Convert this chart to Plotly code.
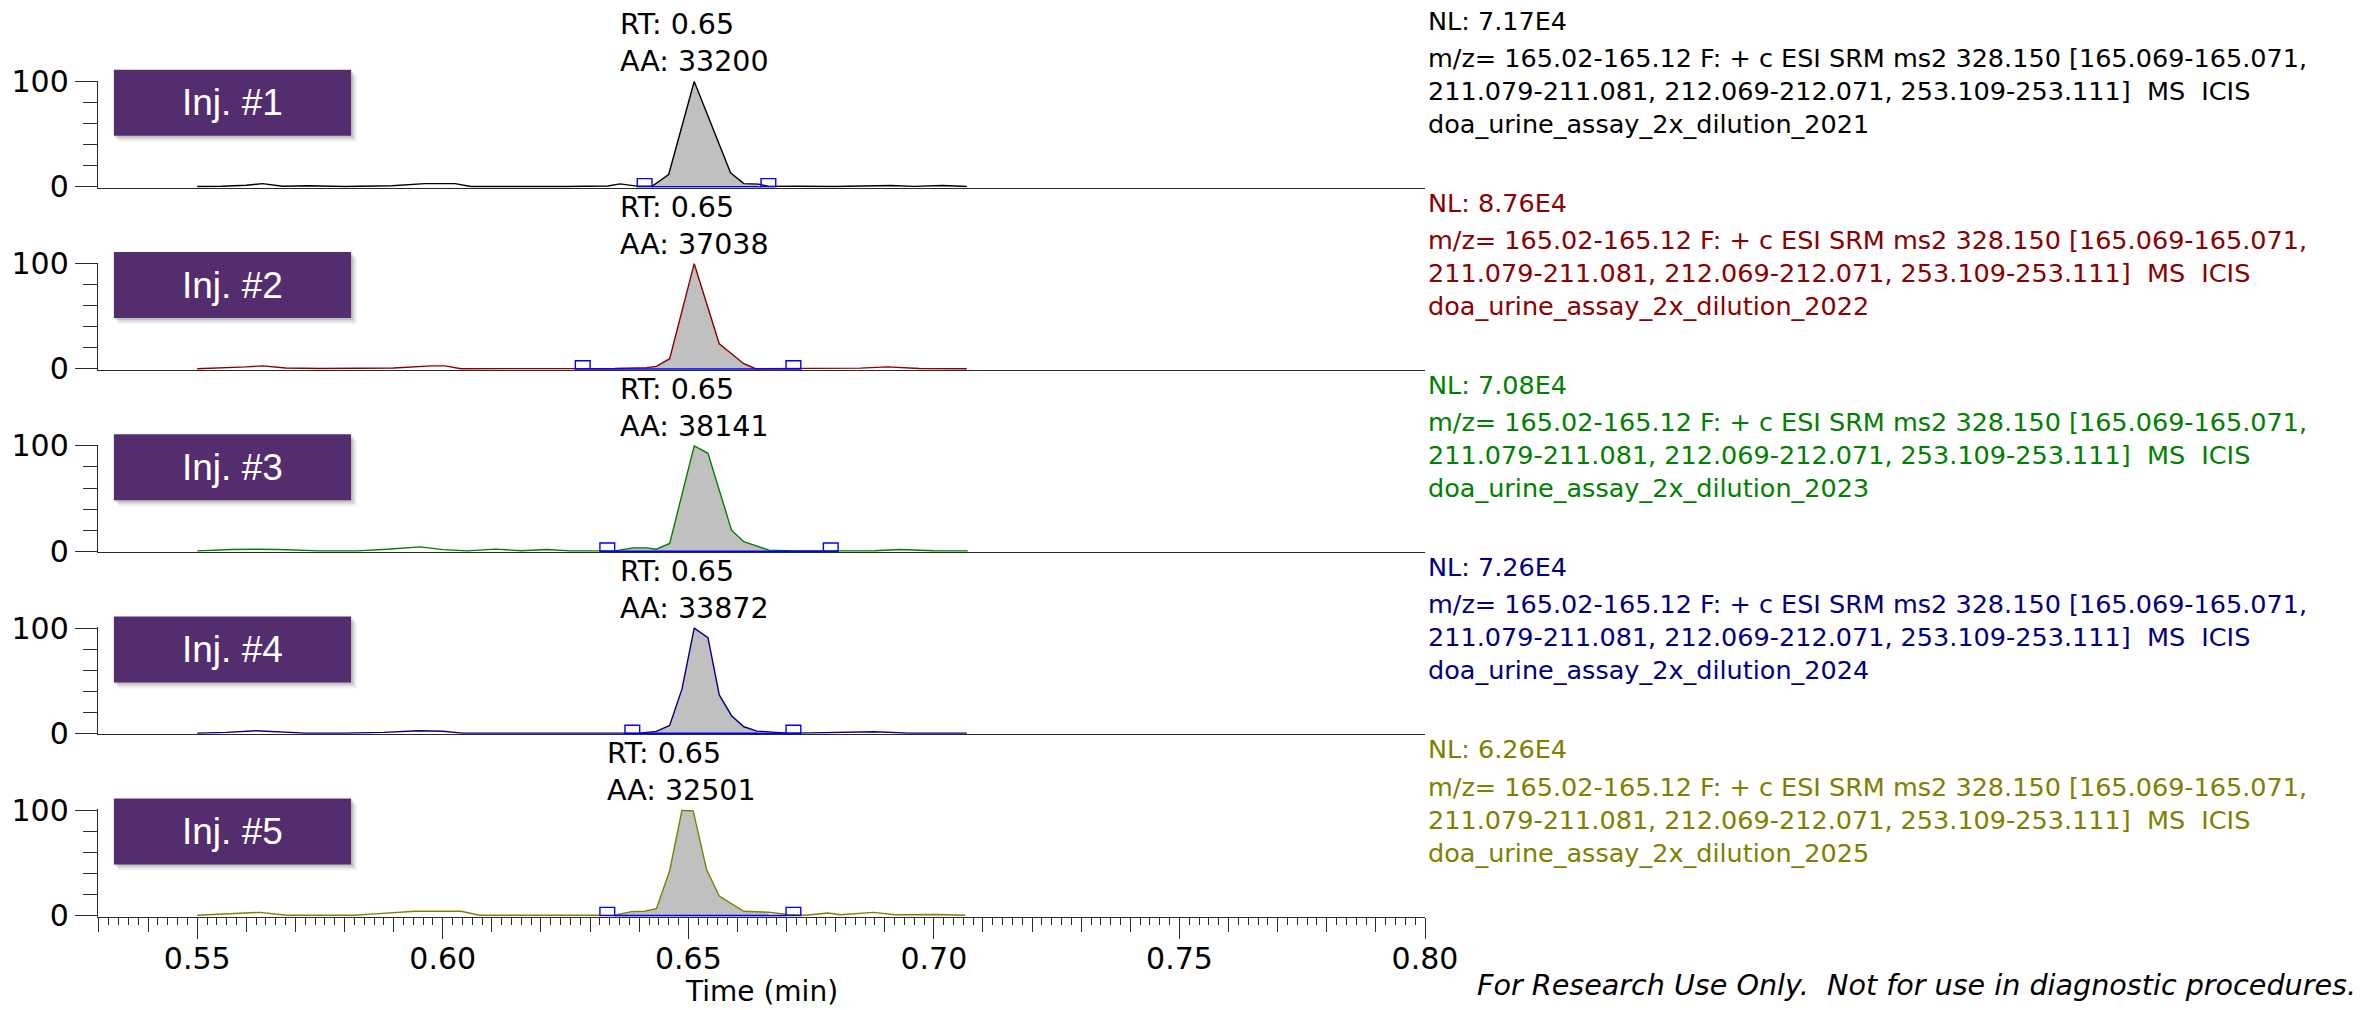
import plotly.graph_objects as go

# ---------------- data ----------------
t1 = [0.550, 0.555, 0.560, 0.5633, 0.5674, 0.5728, 0.580, 0.5896, 0.5964, 0.600, 0.6025, 0.6057,
      0.615, 0.625, 0.6336, 0.6361, 0.6395, 0.6426, 0.6460, 0.6512, 0.6586, 0.6613, 0.6643, 0.6665,
      0.672, 0.680, 0.6913, 0.696, 0.7017, 0.7067]
i1 = [0.3, 0.5, 1.5, 3.0, 0.5, 1.0, 0.3, 1.0, 3.0, 3.2, 3.0, 0.3,
      0.2, 0.3, 0.8, 2.8, 0.6, 0.5, 11.7, 100.0, 13.3, 3.0, 2.5, 0.4,
      0.5, 0.3, 1.3, 0.4, 1.3, 0.3]

t2 = [0.550, 0.555, 0.560, 0.5633, 0.568, 0.575, 0.582, 0.590, 0.5977, 0.6005, 0.6037, 0.610,
      0.620, 0.6296, 0.635, 0.6415, 0.6435, 0.6462, 0.6512, 0.6563, 0.6613, 0.6637, 0.667, 0.675,
      0.685, 0.6906, 0.697, 0.7067]
i2 = [0.3, 1.0, 2.0, 3.0, 1.0, 0.5, 0.5, 1.0, 3.0, 3.0, 0.3, 0.2,
      0.3, 0.3, 0.5, 1.3, 2.5, 9.8, 100.0, 24.0, 5.0, 0.3, 0.3, 0.4,
      0.8, 2.0, 0.5, 0.3]

t3 = [0.550, 0.557, 0.562, 0.5666, 0.575, 0.5825, 0.5887, 0.5954, 0.600, 0.605, 0.6107, 0.616,
      0.6211, 0.626, 0.632, 0.635, 0.6388, 0.6415, 0.6435, 0.6462, 0.6512, 0.6540, 0.6588, 0.6613,
      0.6664, 0.672, 0.680, 0.688, 0.693, 0.700, 0.7069]
i3 = [0.3, 1.6, 1.8, 1.6, 0.3, 0.3, 1.8, 4.1, 1.5, 0.3, 2.0, 0.5,
      1.6, 0.3, 0.3, 0.3, 3.2, 3.2, 1.9, 7.3, 100.0, 93.0, 20.0, 9.0,
      1.0, 0.3, 0.3, 0.5, 1.6, 0.4, 0.3]

t4 = [0.550, 0.556, 0.562, 0.566, 0.572, 0.580, 0.588, 0.595, 0.600, 0.604, 0.610, 0.618,
      0.624, 0.6296, 0.634, 0.6401, 0.6435, 0.6462, 0.6487, 0.6512, 0.6540, 0.6563, 0.6588, 0.6613,
      0.6640, 0.670, 0.675, 0.681, 0.6879, 0.695, 0.7067]
i4 = [0.3, 1.0, 2.5, 1.5, 0.3, 0.3, 1.0, 2.5, 2.0, 0.3, 0.3, 0.5,
      0.8, 0.5, 0.3, 0.3, 1.9, 7.6, 42.0, 100.0, 91.0, 36.5, 16.8, 6.3,
      2.2, 0.3, 0.5, 0.8, 1.6, 0.3, 0.3]

t5 = [0.550, 0.557, 0.5627, 0.5682, 0.575, 0.582, 0.5869, 0.5944, 0.599, 0.6037, 0.6075, 0.615,
      0.625, 0.632, 0.635, 0.6384, 0.6411, 0.6435, 0.6462, 0.6487, 0.6510, 0.6537, 0.6563, 0.6613,
      0.6664, 0.6701, 0.674, 0.6784, 0.681, 0.6877, 0.692, 0.7008, 0.7064]
i5 = [0.3, 1.9, 3.1, 0.3, 0.3, 0.4, 1.9, 4.1, 4.1, 4.1, 0.3, 0.3,
      0.3, 0.3, 0.3, 3.8, 4.1, 6.6, 42.6, 100.0, 99.4, 44.0, 18.6, 4.1,
      3.2, 1.0, 0.3, 2.5, 0.8, 3.1, 0.8, 1.0, 0.3]

times = [t1, t2, t3, t4, t5]
intens = [i1, i2, i3, i4, i5]

peak_start = [0.6426, 0.6300, 0.6350, 0.6401, 0.6350]
peak_end = [0.6648, 0.6699, 0.6775, 0.6699, 0.6699]
rt_values = [0.65, 0.65, 0.65, 0.65, 0.65]
aa_values = [33200, 37038, 38141, 33872, 32501]
nl_values = ["7.17E4", "8.76E4", "7.08E4", "7.26E4", "6.26E4"]
file_names = ["doa_urine_assay_2x_dilution_2021", "doa_urine_assay_2x_dilution_2022",
              "doa_urine_assay_2x_dilution_2023", "doa_urine_assay_2x_dilution_2024",
              "doa_urine_assay_2x_dilution_2025"]
inj_labels = ["Inj. #1", "Inj. #2", "Inj. #3", "Inj. #4", "Inj. #5"]
scan_filter_lines = ["m/z= 165.02-165.12 F: + c ESI SRM ms2 328.150 [165.069-165.071,",
                     "211.079-211.081, 212.069-212.071, 253.109-253.111]\u00a0 MS\u00a0 ICIS"]
x_tick_vals = [0.55, 0.60, 0.65, 0.70, 0.75, 0.80]
y_tick_vals = [0, 100]
x_title = "Time (min)"
disclaimer = "For Research Use Only.\u00a0 Not for use in diagnostic procedures."

# ---------------- styling ----------------
colors = ["#000000", "#8B0000", "#008000", "#000080", "#808000"]
FILL = "#C0C0C0"
BASE_BLUE = "#0000FF"
BOX = "#532D6E"
AXC = "#2a2a2a"
FONT = "DejaVu Sans"

W, H = 2369, 1010
L_PX, R_PX = 88, 1425
T_PX, B_PX = 80, 917
x_range = [0.5298, 0.80]
y_range = [-1.0, 100.8]
Z0, STEP, UNIT = 186.8, 182.2, 1.053


def pyp(px):
    return (B_PX - px) / (B_PX - T_PX)


def pxp(px):
    return (px - L_PX) / (R_PX - L_PX)


fig = go.Figure()
shapes = []
annotations = []

for k in range(5):
    sfx = "" if k == 0 else str(k + 1)
    xr, yr = "x" + sfx, "y" + sfx
    t, v = times[k], intens[k]
    s, e = peak_start[k], peak_end[k]
    z = Z0 + STEP * k

    # filled peak area
    fx = [a for a in t if s <= a <= e]
    fy = [b for a, b in zip(t, v) if s <= a <= e]
    fig.add_trace(go.Scatter(x=fx, y=fy, mode="lines", fill="tozeroy", fillcolor=FILL,
                             line=dict(width=0, color=FILL), xaxis=xr, yaxis=yr,
                             hoverinfo="skip", showlegend=False))
    # chromatogram trace
    fig.add_trace(go.Scatter(x=t, y=v, mode="lines", line=dict(color=colors[k], width=1.4),
                             xaxis=xr, yaxis=yr, showlegend=False))
    # integration baseline
    fig.add_trace(go.Scatter(x=[s, e], y=[0, 0], mode="lines",
                             line=dict(color=BASE_BLUE, width=1.6), xaxis=xr, yaxis=yr,
                             hoverinfo="skip", showlegend=False))
    # peak boundary markers
    for x0, x1 in [(s - 0.003, s), (e, e + 0.003)]:
        shapes.append(dict(type="rect", xref=xr, yref=yr, x0=x0, x1=x1, y0=0, y1=7.8,
                           line=dict(color=BASE_BLUE, width=1.4), fillcolor="rgba(0,0,0,0)"))

    # RT / AA label at apex
    apex = max(range(len(v)), key=lambda j: v[j])
    annotations.append(dict(xref=xr, yref=yr, x=t[apex], y=100, yanchor="bottom", xanchor="center",
                            yshift=1, showarrow=False, align="left",
                            text=f"RT: {rt_values[k]:.2f}<br>AA: {aa_values[k]}",
                            font=dict(family=FONT, size=28.5, color="#000000")))

    # right-side info
    annotations.append(dict(xref="paper", yref="paper", x=pxp(1426), y=pyp(29.3 + STEP * k - 8.7),
                            xanchor="left", yanchor="middle", showarrow=False, align="left",
                            text=f"NL: {nl_values[k]}",
                            font=dict(family=FONT, size=25.5, color=colors[k])))
    annotations.append(dict(xref="paper", yref="paper", x=pxp(1426), y=pyp(66.7 + STEP * k + 24.0),
                            xanchor="left", yanchor="middle", showarrow=False, align="left",
                            text="<br>".join(scan_filter_lines + [file_names[k]]),
                            font=dict(family=FONT, size=25.5, color=colors[k])))

    # injection label box with soft shadow
    bx0, bx1 = 104, 343
    by0, by1 = z - 117, z - 51
    for off, alpha in [(6, 0.05), (4, 0.09), (2, 0.12)]:
        shapes.append(dict(type="rect", xref="paper", yref="paper", layer="above",
                           x0=pxp(bx0 + off - 1), x1=pxp(bx1 + off), y0=pyp(by1 + off), y1=pyp(by0 + off),
                           line=dict(width=0), fillcolor=f"rgba(0,0,0,{alpha})"))
    shapes.append(dict(type="rect", xref="paper", yref="paper", layer="above",
                       x0=pxp(bx0), x1=pxp(bx1), y0=pyp(by1), y1=pyp(by0),
                       line=dict(width=0), fillcolor=BOX))
    annotations.append(dict(xref="paper", yref="paper", x=pxp((bx0 + bx1) / 2), y=pyp((by0 + by1) / 2),
                            xanchor="center", yanchor="middle", showarrow=False, text=inj_labels[k],
                            font=dict(family="Liberation Sans", size=37, color="#FFFFFF")))

    # axes
    top = z - y_range[1] * UNIT
    bot = z - y_range[0] * UNIT
    dom = [max(0.0, pyp(bot)), min(1.0, pyp(top))]
    xa = dict(domain=[0, 1], range=x_range, anchor=yr, showline=True, linecolor=AXC, linewidth=1.4,
              showgrid=False, zeroline=False, ticks="", showticklabels=False)
    if k == 4:
        xa.update(ticks="outside", ticklen=15, tickwidth=1.3, tickcolor=AXC, tickmode="array",
                  tickvals=x_tick_vals, ticktext=[f"{a:.2f}" for a in x_tick_vals],
                  showticklabels=True, tickfont=dict(family=FONT, size=30, color="#000000"),
                  minor=dict(ticks="outside", tickmode="linear", tick0=0.55, dtick=0.01, ticklen=14,
                             tickwidth=1.2, tickcolor=AXC))
    ya = dict(domain=dom, range=y_range, anchor=xr, showline=True, linecolor=AXC, linewidth=1.4,
              showgrid=False, zeroline=False, ticks="outside", ticklen=22, tickwidth=1.3, tickcolor=AXC,
              tickmode="array", tickvals=y_tick_vals, ticktext=[str(a) for a in y_tick_vals],
              tickfont=dict(family=FONT, size=30, color="#000000"),
              minor=dict(ticks="outside", tickmode="array", tickvals=[20, 40, 60, 80], ticklen=14,
                         tickwidth=1.2, tickcolor=AXC))
    fig.layout["xaxis" + sfx] = xa
    fig.layout["yaxis" + sfx] = ya

# fine (0.002 min) and long (0.05 min) ticks on the bottom time axis via overlaying axes
fig.add_trace(go.Scatter(x=[x_range[0]], y=[0], mode="markers", marker=dict(opacity=0),
                         xaxis="x6", yaxis="y5", hoverinfo="skip", showlegend=False))
fig.add_trace(go.Scatter(x=[x_range[0]], y=[0], mode="markers", marker=dict(opacity=0),
                         xaxis="x7", yaxis="y5", hoverinfo="skip", showlegend=False))
fig.layout["xaxis6"] = dict(overlaying="x5", anchor="y5", range=x_range, showline=False, showgrid=False,
                            zeroline=False, ticks="outside", ticklen=7, tickwidth=1.1, tickcolor=AXC,
                            tickmode="linear", tick0=0.53, dtick=0.002, showticklabels=False)
fig.layout["xaxis7"] = dict(overlaying="x5", anchor="y5", range=x_range, showline=False, showgrid=False,
                            zeroline=False, ticks="outside", ticklen=21, tickwidth=1.3, tickcolor=AXC,
                            tickmode="array", tickvals=x_tick_vals, showticklabels=False)

annotations.append(dict(xref="paper", yref="paper", x=0.5, y=pyp(991), xanchor="center", yanchor="middle",
                        showarrow=False, text=x_title, font=dict(family=FONT, size=28, color="#000000")))
annotations.append(dict(xref="paper", yref="paper", x=pxp(2365), y=pyp(985), xanchor="right",
                        yanchor="middle", showarrow=False, text=f"<i>{disclaimer}</i>",
                        font=dict(family=FONT, size=28.6, color="#000000")))

fig.update_layout(width=W, height=H, autosize=False,
                  margin=dict(l=L_PX, r=W - R_PX, t=T_PX, b=H - B_PX, pad=0),
                  paper_bgcolor="#FFFFFF", plot_bgcolor="rgba(0,0,0,0)",
                  shapes=shapes, annotations=annotations, showlegend=False)

fig.write_html("out.html", config={"displayModeBar": False},
               post_script="document.body.style.margin='0px';document.body.style.overflow='hidden';")
